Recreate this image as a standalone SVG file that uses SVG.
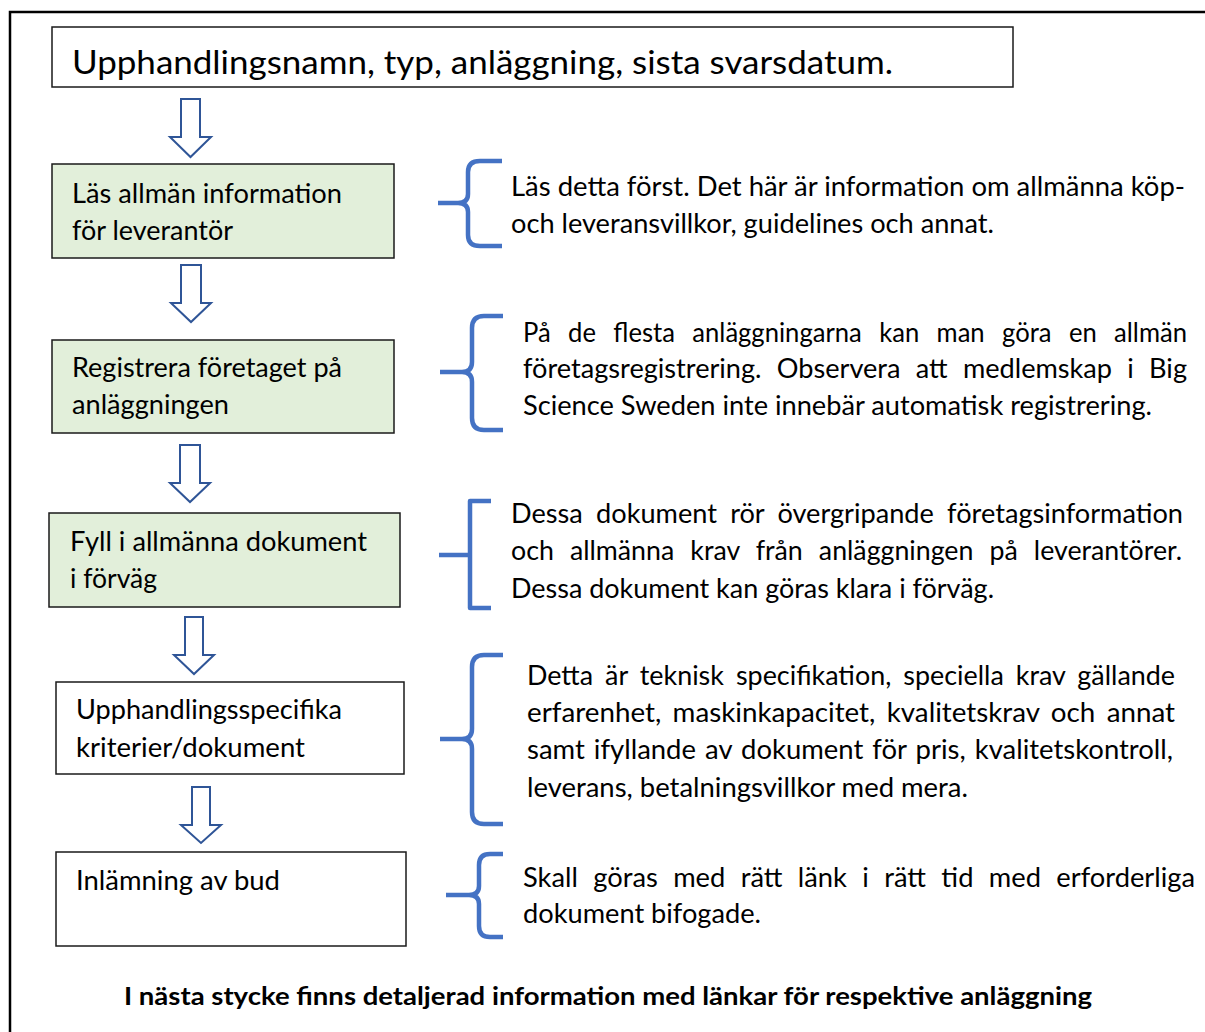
<svg xmlns="http://www.w3.org/2000/svg" width="1205" height="1032" viewBox="0 0 1205 1032">
<style>
  text { font-family: Lato, "Open Sans", "Liberation Sans", sans-serif; fill: #000; }
  .box { stroke: #1a1a1a; stroke-width: 1.5; }
  .green { fill: #E2EFDA; }
  .white { fill: #fff; }
  .t { font-size: 26px; }
  .title { font-size: 32px; }
  .bold { font-size: 25px; font-weight: bold; }
  .arrow { fill: #fff; stroke: #2F5597; stroke-width: 2; stroke-linejoin: miter; }
  .brace { fill: none; stroke: #4472C4; stroke-width: 4.5; stroke-linejoin: round; }
</style>
<rect x="0" y="0" width="1205" height="1032" fill="#fff"/>
<path d="M10,1032 V12 H1205" fill="none" stroke="#000" stroke-width="2.5"/>

<g id="title">
  <rect class="box white" x="52" y="27" width="961" height="60"/>
  <text class="title" x="72" y="74" textLength="821" lengthAdjust="spacingAndGlyphs">Upphandlingsnamn, typ, anläggning, sista svarsdatum.</text>
</g>

<g id="step1">
  <rect class="box green" x="52" y="164" width="342" height="94"/>
  <text class="t" x="72" y="203" textLength="270" lengthAdjust="spacingAndGlyphs">Läs allmän information</text>
  <text class="t" x="72" y="240" textLength="161" lengthAdjust="spacingAndGlyphs">för leverantör</text>
</g>
<g id="step2">
  <rect class="box green" x="52" y="340" width="342" height="93"/>
  <text class="t" x="72" y="377" textLength="270" lengthAdjust="spacingAndGlyphs">Registrera företaget på</text>
  <text class="t" x="72" y="414" textLength="157" lengthAdjust="spacingAndGlyphs">anläggningen</text>
</g>
<g id="step3">
  <rect class="box green" x="49" y="513" width="351" height="94"/>
  <text class="t" x="70" y="551" textLength="297" lengthAdjust="spacingAndGlyphs">Fyll i allmänna dokument</text>
  <text class="t" x="70" y="588" textLength="87" lengthAdjust="spacingAndGlyphs">i förväg</text>
</g>
<g id="step4">
  <rect class="box white" x="56" y="682" width="348" height="92"/>
  <text class="t" x="76" y="719" textLength="266" lengthAdjust="spacingAndGlyphs">Upphandlingsspecifika</text>
  <text class="t" x="76" y="757" textLength="229" lengthAdjust="spacingAndGlyphs">kriterier/dokument</text>
</g>
<g id="step5">
  <rect class="box white" x="56" y="852" width="350" height="94"/>
  <text class="t" x="76" y="890" textLength="204" lengthAdjust="spacingAndGlyphs">Inlämning av bud</text>
</g>

<g id="note1">
  <text class="t" x="511" y="196" textLength="674" lengthAdjust="spacingAndGlyphs">Läs detta först. Det här är information om allmänna köp-</text>
  <text class="t" x="511" y="233" textLength="483" lengthAdjust="spacingAndGlyphs">och leveransvillkor, guidelines och annat.</text>
</g>
<g id="note2">
  <text class="t" x="523" y="342" word-spacing="11" textLength="664" lengthAdjust="spacingAndGlyphs">På de flesta anläggningarna kan man göra en allmän</text>
  <text class="t" x="523" y="378" word-spacing="8" textLength="664" lengthAdjust="spacingAndGlyphs">företagsregistrering. Observera att medlemskap i Big</text>
  <text class="t" x="523" y="415" textLength="629" lengthAdjust="spacingAndGlyphs">Science Sweden inte innebär automatisk registrering.</text>
</g>
<g id="note3">
  <text class="t" x="511" y="523" word-spacing="6" textLength="672" lengthAdjust="spacingAndGlyphs">Dessa dokument rör övergripande företagsinformation</text>
  <text class="t" x="511" y="560" word-spacing="9" textLength="671" lengthAdjust="spacingAndGlyphs">och allmänna krav från anläggningen på leverantörer.</text>
  <text class="t" x="511" y="598" textLength="483" lengthAdjust="spacingAndGlyphs">Dessa dokument kan göras klara i förväg.</text>
</g>
<g id="note4">
  <text class="t" x="527" y="685" word-spacing="5" textLength="648" lengthAdjust="spacingAndGlyphs">Detta är teknisk specifikation, speciella krav gällande</text>
  <text class="t" x="527" y="722" word-spacing="4" textLength="648" lengthAdjust="spacingAndGlyphs">erfarenhet, maskinkapacitet, kvalitetskrav och annat</text>
  <text class="t" x="527" y="759" word-spacing="2" textLength="646" lengthAdjust="spacingAndGlyphs">samt ifyllande av dokument för pris, kvalitetskontroll,</text>
  <text class="t" x="527" y="797" textLength="441" lengthAdjust="spacingAndGlyphs">leverans, betalningsvillkor med mera.</text>
</g>
<g id="note5">
  <text class="t" x="523" y="887" word-spacing="8" textLength="672" lengthAdjust="spacingAndGlyphs">Skall göras med rätt länk i rätt tid med erforderliga</text>
  <text class="t" x="523" y="923" textLength="238" lengthAdjust="spacingAndGlyphs">dokument bifogade.</text>
</g>

<g id="footer">
  <text class="bold" x="124" y="1005" textLength="968" lengthAdjust="spacingAndGlyphs">I nästa stycke finns detaljerad information med länkar för respektive anläggning</text>
</g>

<g id="connectors">
  <polygon class="arrow" points="181,99 200,99 200,137 211,137 190.5,157 170,137 181,137"/>
  <polygon class="arrow" points="181,265 201,265 201,303 211,303 191,322 171,303 181,303"/>
  <polygon class="arrow" points="180,445 200,445 200,483 210,483 190,502 170,483 180,483"/>
  <polygon class="arrow" points="185,617 203,617 203,655 214,655 194,674 174,655 185,655"/>
  <polygon class="arrow" points="192,787 210,787 210,825 221,825 201,843 181,825 192,825"/>

  <path class="brace" d="M502,161 L480,161 Q468,161 468,172 L468,194 Q468,203 458,203 L438,203 M458,203 Q468,203 468,212 L468,235 Q468,246 480,246 L502,246"/>
  <path class="brace" d="M503,316 L484,316 Q472,316 472,328 L472,362 Q472,372 462,372 L440,372 M462,372 Q472,372 472,382 L472,418 Q472,430 484,430 L503,430"/>
  <path class="brace" d="M491,501 L470,501 L470,608 L491,608 M470,555 L439,555" stroke-linejoin="miter"/>
  <path class="brace" d="M503,655 L484,655 Q472,655 472,667 L472,729 Q472,739 462,739 L440,739 M462,739 Q472,739 472,749 L472,812 Q472,824 484,824 L503,824"/>
  <path class="brace" d="M503,854 L490,854 Q479,854 479,865 L479,886 Q479,895 469,895 L446,895 M469,895 Q479,895 479,904 L479,926 Q479,937 490,937 L503,937"/>
</g>
</svg>
